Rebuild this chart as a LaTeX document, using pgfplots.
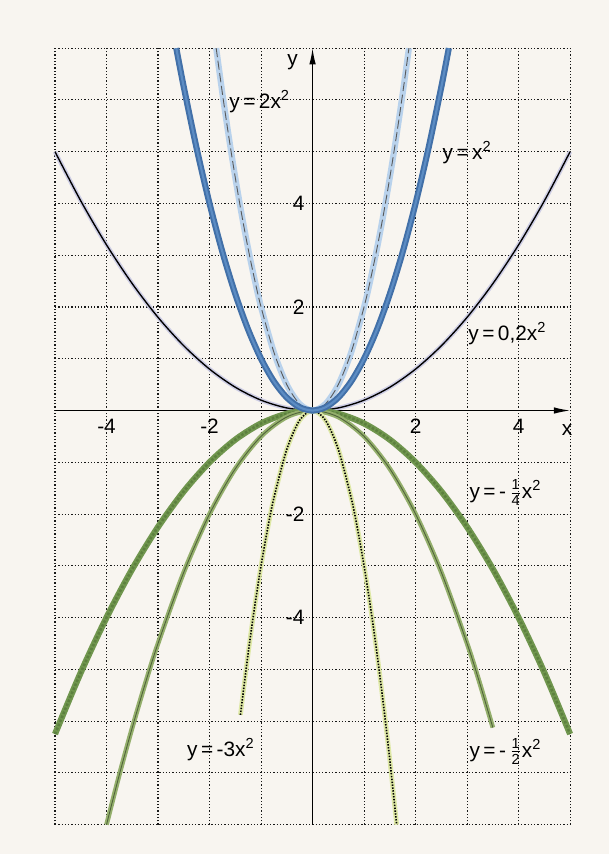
\documentclass[border=0pt]{standalone}
\usepackage{fontspec}
\setmainfont{Liberation Sans}
\usepackage{amsmath}
\usepackage{pgfplots}
\usepackage{pgfplotstable}
\pgfplotsset{compat=1.18}
\usetikzlibrary{arrows.meta}

\definecolor{bgcol}{RGB}{248,245,240}
\definecolor{blueA}{RGB}{66,112,168}
\definecolor{blueAin}{RGB}{92,140,195}
\definecolor{blueB}{RGB}{185,210,236}
\definecolor{halo}{RGB}{205,205,228}
\definecolor{greenA}{RGB}{112,150,78}
\definecolor{greenAin}{RGB}{92,128,62}
\definecolor{greenB}{RGB}{148,175,108}
\definecolor{greenBin}{RGB}{80,100,58}
\definecolor{yel}{RGB}{222,232,165}

\newcommand{\lbl}{\fontsize{11.5}{13}\selectfont}

% y = 0.2 x^2
\pgfplotstableread{
x y
-5 5
-4.5 4.05
-4 3.2
-3.5 2.45
-3 1.8
-2.5 1.25
-2 0.8
-1.5 0.45
-1 0.2
-0.5 0.05
0 0
0.5 0.05
1 0.2
1.5 0.45
2 0.8
2.5 1.25
3 1.8
3.5 2.45
4 3.2
4.5 4.05
5 5
}\tP

% y = x^2
\pgfplotstableread{
x y
-2.6458 7
-2.5 6.25
-2.25 5.0625
-2 4
-1.75 3.0625
-1.5 2.25
-1.25 1.5625
-1 1
-0.75 0.5625
-0.5 0.25
-0.25 0.0625
0 0
0.25 0.0625
0.5 0.25
0.75 0.5625
1 1
1.25 1.5625
1.5 2.25
1.75 3.0625
2 4
2.25 5.0625
2.5 6.25
2.6458 7
}\tQ

% y = 2 x^2
\pgfplotstableread{
x y
-1.8708 7
-1.75 6.125
-1.625 5.28125
-1.5 4.5
-1.375 3.78125
-1.25 3.125
-1.125 2.53125
-1 2
-0.75 1.125
-0.5 0.5
-0.25 0.125
0 0
0.25 0.125
0.5 0.5
0.75 1.125
1 2
1.125 2.53125
1.25 3.125
1.375 3.78125
1.5 4.5
1.625 5.28125
1.75 6.125
1.8708 7
}\tR

% y = -1/4 x^2
\pgfplotstableread{
x y
-5 -6.25
-4.5 -5.0625
-4 -4
-3.5 -3.0625
-3 -2.25
-2.5 -1.5625
-2 -1
-1.5 -0.5625
-1 -0.25
-0.5 -0.0625
0 0
0.5 -0.0625
1 -0.25
1.5 -0.5625
2 -1
2.5 -1.5625
3 -2.25
3.5 -3.0625
4 -4
4.5 -5.0625
5 -6.25
}\tS

% y = -1/2 x^2
\pgfplotstableread{
x y
-4 -8
-3.75 -7.03125
-3.5 -6.125
-3.25 -5.28125
-3 -4.5
-2.5 -3.125
-2 -2
-1.5 -1.125
-1 -0.5
-0.5 -0.125
0 0
0.5 -0.125
1 -0.5
1.5 -1.125
2 -2
2.5 -3.125
3 -4.5
3.25 -5.28125
3.5 -6.125
}\tT

% y = -3 x^2
\pgfplotstableread{
x y
-1.4 -5.88
-1.25 -4.6875
-1.125 -3.796875
-1 -3
-0.875 -2.296875
-0.75 -1.6875
-0.5 -0.75
-0.25 -0.1875
0 0
0.25 -0.1875
0.5 -0.75
0.75 -1.6875
0.875 -2.296875
1 -3
1.125 -3.796875
1.25 -4.6875
1.375 -5.671875
1.5 -6.75
1.633 -8
}\tU

\begin{document}
\begin{tikzpicture}
\fill[bgcol] (-6.068,-8.61) rectangle (5.757,7.97);
\useasboundingbox (-6.068,-8.61) rectangle (5.757,7.97);
\begin{axis}[
  anchor=origin, at={(0,0)},
  x=1cm, y=1.005cm,
  xmin=-5, xmax=5, ymin=-8, ymax=7,
  clip=false,
  axis lines=middle,
  axis line style={line width=0.7pt, -{Latex[length=9pt,width=3.6pt]}},
  xtick={-5,...,5}, ytick={-8,...,7},
  xticklabels={,-4,,-2,,,,2,,4,},
  yticklabels={,,,,-4,,-2,,,,2,,4,,,},
  major tick length=0pt,
  grid=major,
  major grid style={black!90, line width=0.6pt, dash pattern=on 0.7pt off 1.1pt},
  tick label style={font=\lbl},
  xticklabel style={yshift=-1pt},
  yticklabel style={xshift=-1pt},
  every axis plot/.append style={smooth, line cap=butt},
]
% y = 0.2x^2
\addplot[halo, line width=2.4pt] table[x=x,y=y] {\tP};
\addplot[black, line width=0.75pt] table[x=x,y=y] {\tP};
% y = -1/4 x^2
\addplot[greenA, line width=3.4pt] table[x=x,y=y] {\tS};
\addplot[greenAin, line width=1.4pt, densely dotted] table[x=x,y=y] {\tS};
% y = -1/2 x^2
\addplot[greenB, line width=2.6pt] table[x=x,y=y] {\tT};
\addplot[greenBin, line width=0.5pt] table[x=x,y=y] {\tT};
% y = -3 x^2
\addplot[yel, line width=2.6pt] table[x=x,y=y] {\tU};
\addplot[black, line width=0.9pt, dash pattern=on 0.8pt off 0.8pt] table[x=x,y=y] {\tU};
% y = 2x^2
\addplot[blueB, line width=3.4pt] table[x=x,y=y] {\tR};
\addplot[black!65, line width=0.5pt, dash pattern=on 5pt off 2pt] table[x=x,y=y] {\tR};
% y = x^2
\addplot[blueA, line width=3.4pt] table[x=x,y=y] {\tQ};
\addplot[blueAin, line width=1.2pt] table[x=x,y=y] {\tQ};

\node[font=\lbl] at (axis cs:4.94,-0.37) {x};
\node[font=\lbl] at (axis cs:-0.39,6.72) {y};

\node[font=\lbl, anchor=west, inner sep=0pt] at (axis cs:-1.62,5.97) {y\,=\,2x\textsuperscript{2}};
\node[font=\lbl, anchor=west, inner sep=0pt] at (axis cs:2.52,4.98) {y\,=\,x\textsuperscript{2}};
\node[font=\lbl, anchor=west, inner sep=0pt] at (axis cs:3.02,1.49) {y\,=\,0,2x\textsuperscript{2}};
\node[font=\lbl, anchor=west, inner sep=0pt] at (axis cs:3.04,-1.59) {y\,=\,-\,$\frac{\text{1}}{\text{4}}$x\textsuperscript{2}};
\node[font=\lbl, anchor=west, inner sep=0pt] at (axis cs:-2.44,-6.55) {y\,=\,-3x\textsuperscript{2}};
\node[font=\lbl, anchor=west, inner sep=0pt] at (axis cs:3.04,-6.59) {y\,=\,-\,$\frac{\text{1}}{\text{2}}$x\textsuperscript{2}};
\end{axis}
\end{tikzpicture}
\end{document}
